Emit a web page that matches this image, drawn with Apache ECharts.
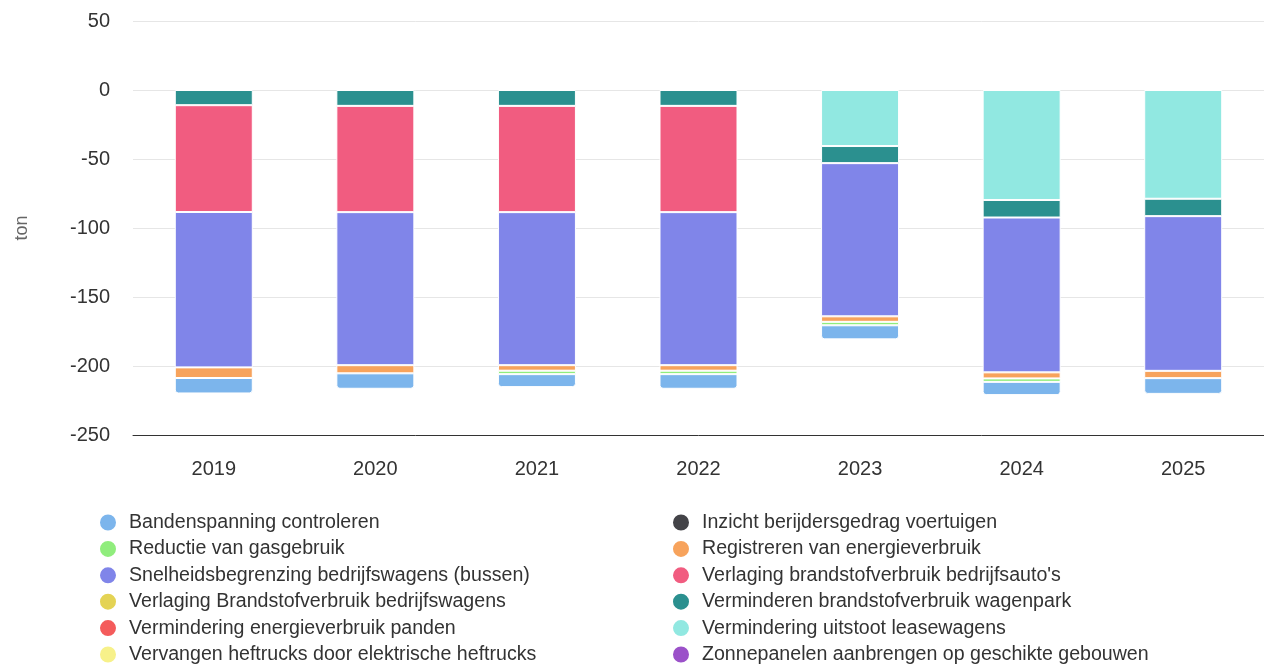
<!DOCTYPE html>
<html>
<head>
<meta charset="utf-8">
<script src="https://cdn.jsdelivr.net/npm/echarts@6/dist/echarts.min.js"></script>
<style>
html,body{margin:0;padding:0;background:#fff;}
#c{width:1264px;height:664px;}
</style>
</head>
<body>
<div id="c"></div>
<script>
const categories = ['2019','2020','2021','2022','2023','2024','2025'];
const yTicks = [50, 0, -50, -100, -150, -200, -250];

const bandenspanning = [-11.2, -11.2, -9.4, -10.6, -10.2, -9.6, -11.4];
const inzicht = [null, null, null, null, null, null, null];
const reductieGas = [null, null, -2.5, -2.5, -2.5, -2.5, null];
const registreren = [-7.7, -5.9, -4, -4, -4, -4.4, -5.3];
const snelheid = [-112.6, -110.9, -110.9, -110.9, -111, -112.2, -112.1];
const verlagingAutos = [-77.4, -77, -77, -77, null, null, null];
const verlagingBedrijfswagens = [null, null, null, null, null, null, null];
const verminderenWagenpark = [-11, -11.5, -11.5, -11.5, -12.4, -12.7, -12.6];
const verminderingPanden = [null, null, null, null, null, null, null];
const verminderingLease = [null, null, null, null, -40.6, -79.7, -78.8];
const vervangenHeftrucks = [null, null, null, null, null, null, null];
const zonnepanelen = [null, null, null, null, null, null, null];

const seriesDefs = [
  ['Bandenspanning controleren', bandenspanning, '#7cb5ec'],
  ['Inzicht berijdersgedrag voertuigen', inzicht, '#434348'],
  ['Reductie van gasgebruik', reductieGas, '#90ed7d'],
  ['Registreren van energieverbruik', registreren, '#f7a35c'],
  ['Snelheidsbegrenzing bedrijfswagens (bussen)', snelheid, '#8085e9'],
  ["Verlaging brandstofverbruik bedrijfsauto's", verlagingAutos, '#f15c80'],
  ['Verlaging Brandstofverbruik bedrijfswagens', verlagingBedrijfswagens, '#e4d354'],
  ['Verminderen brandstofverbruik wagenpark', verminderenWagenpark, '#2b908f'],
  ['Vermindering energieverbruik panden', verminderingPanden, '#f45b5b'],
  ['Vermindering uitstoot leasewagens', verminderingLease, '#91e8e1'],
  ['Vervangen heftrucks door elektrische heftrucks', vervangenHeftrucks, '#f7f18a'],
  ['Zonnepanelen aanbrengen op geschikte gebouwen', zonnepanelen, '#9b51c9']
];

const legendLeft = seriesDefs.filter((d,i)=>i%2===0).map(d=>d[0]);
const legendRight = seriesDefs.filter((d,i)=>i%2===1).map(d=>d[0]);

const series = seriesDefs.slice().reverse().map(d => ({
  name: d[0],
  type: 'bar',
  stack: 'total',
  data: d[1],
  barWidth: 78,
  itemStyle: {
    color: d[2],
    borderColor: '#ffffff',
    borderWidth: 1,
    borderRadius: d[0] === 'Bandenspanning controleren' ? [0,0,3,3] : 0
  },
  emphasis: {disabled: true}
}));

const legendCommon = {
  orient: 'vertical',
  top: 512.5,
  height: 160,
  padding: 0,
  icon: 'circle',
  itemWidth: 18,
  itemHeight: 18,
  itemGap: 6.4,
  textStyle: {fontSize: 19.6, color: '#333333', lineHeight: 20, padding: [0,0,0,7], fontFamily: 'Liberation Sans, Arial, sans-serif'}
};

const chart = echarts.init(document.getElementById('c'), null, {renderer: 'canvas'});
chart.setOption({
  animation: false,
  textStyle: {fontFamily: 'Liberation Sans, Arial, sans-serif'},
  grid: {left: 133, right: -14, top: 21, bottom: 229, containLabel: false},
  legend: [
    Object.assign({}, legendCommon, {left: 98, data: legendLeft}),
    Object.assign({}, legendCommon, {left: 671, data: legendRight})
  ],
  xAxis: {
    type: 'category',
    data: categories,
    axisLine: {onZero: false, lineStyle: {color: '#333333', width: 1}},
    axisTick: {show: false},
    axisLabel: {fontSize: 20, color: '#333333', margin: 24}
  },
  yAxis: {
    type: 'value',
    min: -250,
    max: 50,
    interval: 50,
    name: 'ton',
    nameLocation: 'middle',
    nameGap: 102,
    nameRotate: 90,
    nameTextStyle: {fontSize: 18, color: '#666666'},
    axisLine: {show: false},
    axisTick: {show: false},
    axisLabel: {fontSize: 20, color: '#333333', margin: 23,
      formatter: v => yTicks.includes(v) ? String(v) : ''},
    splitLine: {lineStyle: {color: '#e6e6e6', width: 1}}
  },
  series: series
});
</script>
</body>
</html>
